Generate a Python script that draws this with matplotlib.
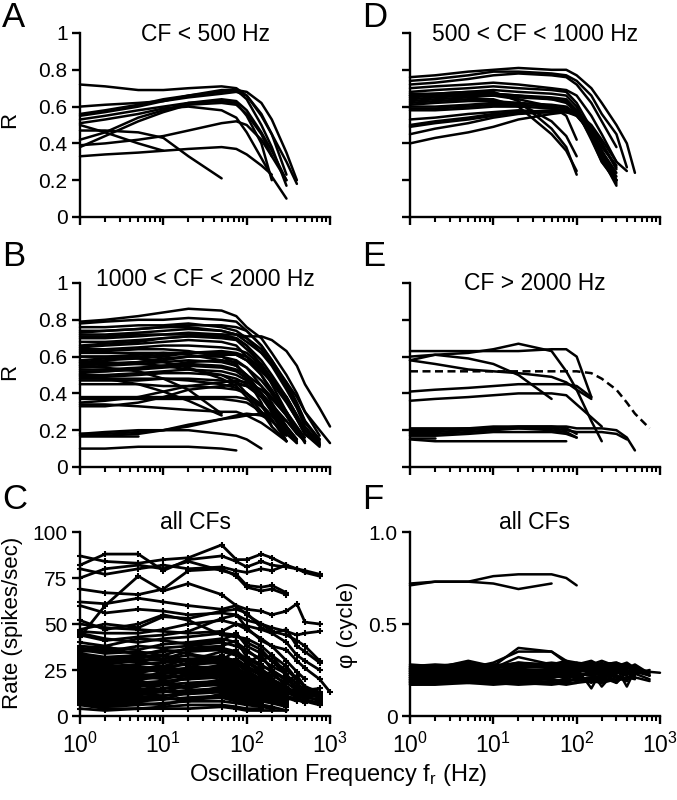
import matplotlib
matplotlib.use("Agg")
import matplotlib.pyplot as plt
from matplotlib.ticker import LogLocator, NullFormatter, FixedLocator, FixedFormatter

plt.rcParams['font.family'] = ['Liberation Sans', 'DejaVu Sans']
plt.rcParams['mathtext.fontset'] = 'custom'
plt.rcParams['mathtext.rm'] = 'Liberation Sans'
plt.rcParams['mathtext.it'] = 'Liberation Sans:italic'

# oscillation frequencies (Hz) at which the units were tested
FREQ = [1, 2, 5, 10, 20, 50, 75, 100, 150, 200, 300, 400, 500, 750, 1000]

# A: vector strength R, CF < 500 Hz
R_CF_LT500 = [
    [0.72, 0.71, 0.69, 0.69, 0.70, 0.71, 0.70, 0.66, 0.55, 0.45, 0.30, 0.18],
    [0.60, 0.61, 0.62, 0.63, 0.65, 0.67, 0.68, 0.66, 0.56, 0.45, 0.23],
    [0.55, 0.57, 0.60, 0.63, 0.66, 0.69, 0.69, 0.64, 0.50, 0.38, 0.17],
    [0.53, 0.55, 0.58, 0.60, 0.62, 0.63, 0.62, 0.55, 0.40, 0.20],
    [0.51, 0.53, 0.56, 0.59, 0.60, 0.58, 0.54, 0.46, 0.32, 0.22, 0.10],
    [0.50, 0.46, 0.40, 0.36],
    [0.47, 0.47, 0.46, 0.43, 0.33, 0.21],
    [0.42, 0.46, 0.54, 0.58, 0.62, 0.64, 0.63, 0.58, 0.46, 0.36, 0.20],
    [0.39, 0.40, 0.42, 0.44, 0.47, 0.51, 0.52, 0.50, 0.42, 0.33, 0.20],
    [0.38, 0.44, 0.52, 0.57, 0.61, 0.62, 0.61, 0.56, 0.45, 0.33],
    [0.33, 0.34, 0.35, 0.36, 0.37, 0.38, 0.37, 0.34, 0.28, 0.23],
    [0.56, 0.58, 0.61, 0.64, 0.66, 0.68, 0.69, 0.68, 0.62, 0.53, 0.35, 0.20],
]

# D: 500 < CF < 1000 Hz
R_CF_500_1000 = [
    [0.76, 0.77, 0.79, 0.80, 0.81, 0.80, 0.80, 0.77, 0.70, 0.62, 0.50, 0.40, 0.24],
    [0.74, 0.75, 0.77, 0.79, 0.79, 0.78, 0.77, 0.74, 0.66, 0.56, 0.45, 0.27],
    [0.72, 0.73, 0.75, 0.77, 0.78, 0.77, 0.76, 0.72, 0.62, 0.52, 0.38],
    [0.70, 0.71, 0.72, 0.73, 0.72, 0.70, 0.69, 0.66, 0.55, 0.45, 0.30],
    [0.68, 0.69, 0.70, 0.71, 0.70, 0.69, 0.68, 0.62, 0.48, 0.36, 0.20],
    [0.67, 0.67, 0.68, 0.69, 0.68, 0.67, 0.66, 0.60, 0.45, 0.32, 0.18],
    [0.66, 0.66, 0.67, 0.67, 0.66, 0.65, 0.64, 0.58, 0.42, 0.30, 0.20],
    [0.65, 0.66, 0.66, 0.66, 0.64, 0.60, 0.55, 0.42],
    [0.64, 0.65, 0.66, 0.67, 0.66, 0.64, 0.63, 0.58, 0.44, 0.32, 0.17],
    [0.63, 0.64, 0.65, 0.66, 0.65, 0.64, 0.62, 0.57, 0.43, 0.30, 0.19],
    [0.62, 0.63, 0.64, 0.64, 0.60, 0.45, 0.36, 0.25],
    [0.61, 0.62, 0.63, 0.63, 0.62, 0.52, 0.44, 0.33],
    [0.66, 0.67, 0.68, 0.68, 0.63, 0.48, 0.38, 0.23],
    [0.60, 0.60, 0.61, 0.62, 0.62, 0.61, 0.60, 0.56, 0.45, 0.35, 0.22],
    [0.59, 0.59, 0.60, 0.61, 0.61, 0.60, 0.59, 0.57, 0.49, 0.40, 0.27],
    [0.58, 0.58, 0.59, 0.60, 0.60, 0.59, 0.58, 0.55, 0.46, 0.36, 0.24],
    [0.53, 0.54, 0.56, 0.57, 0.58, 0.57, 0.57, 0.55, 0.46, 0.38, 0.28],
    [0.50, 0.52, 0.54, 0.56, 0.57, 0.57, 0.57, 0.56, 0.48, 0.40, 0.26],
    [0.49, 0.51, 0.53, 0.55, 0.57, 0.58, 0.58, 0.57, 0.50, 0.42, 0.30, 0.25],
    [0.45, 0.48, 0.51, 0.54, 0.56, 0.57, 0.58, 0.56, 0.46, 0.35, 0.20],
    [0.40, 0.43, 0.46, 0.49, 0.53, 0.56, 0.57, 0.56, 0.45, 0.33, 0.20],
]

# B: 1000 < CF < 2000 Hz
R_CF_1000_2000 = [
    [0.79, 0.80, 0.82, 0.84, 0.86, 0.85, 0.82, 0.76, 0.70, 0.62, 0.50, 0.40, 0.30, 0.17],
    [0.78, 0.79, 0.80, 0.80, 0.81, 0.80, 0.79, 0.74, 0.66, 0.58, 0.45, 0.34, 0.25, 0.14],
    [0.73, 0.74, 0.75, 0.76, 0.76, 0.74, 0.72, 0.71, 0.71, 0.69, 0.63, 0.55, 0.45, 0.32, 0.22],
    [0.76, 0.76, 0.77, 0.77, 0.78, 0.76, 0.74, 0.70, 0.62, 0.55, 0.42, 0.32, 0.22, 0.13],
    [0.72, 0.72, 0.73, 0.74, 0.75, 0.74, 0.72, 0.68, 0.62, 0.56, 0.46, 0.38, 0.30, 0.20, 0.13],
    [0.71, 0.71, 0.72, 0.72, 0.72, 0.71, 0.70, 0.66, 0.58, 0.50, 0.38, 0.28, 0.20, 0.12],
    [0.70, 0.70, 0.71, 0.72, 0.73, 0.72, 0.70, 0.66, 0.55, 0.45, 0.30, 0.20, 0.14],
    [0.66, 0.67, 0.68, 0.70, 0.71, 0.70, 0.69, 0.64, 0.56, 0.48, 0.36, 0.26, 0.18, 0.11],
    [0.65, 0.66, 0.67, 0.68, 0.69, 0.68, 0.66, 0.60, 0.50, 0.40, 0.28, 0.18],
    [0.64, 0.64, 0.65, 0.66, 0.66, 0.65, 0.64, 0.62, 0.55, 0.48, 0.38, 0.28, 0.20, 0.13],
    [0.63, 0.63, 0.64, 0.64, 0.63, 0.60, 0.56, 0.48, 0.35, 0.22],
    [0.62, 0.62, 0.62, 0.62, 0.61, 0.58, 0.55, 0.50, 0.40, 0.30, 0.14],
    [0.60, 0.60, 0.61, 0.62, 0.62, 0.62, 0.61, 0.58, 0.52, 0.46, 0.36, 0.26, 0.18, 0.12],
    [0.58, 0.59, 0.60, 0.61, 0.62, 0.63, 0.62, 0.60, 0.53, 0.46, 0.35, 0.26, 0.18, 0.12],
    [0.57, 0.58, 0.59, 0.60, 0.62, 0.62, 0.61, 0.58, 0.50, 0.42, 0.30, 0.20, 0.14],
    [0.56, 0.56, 0.57, 0.58, 0.60, 0.61, 0.61, 0.60, 0.54, 0.47, 0.38, 0.28, 0.20, 0.15],
    [0.55, 0.56, 0.57, 0.59, 0.60, 0.60, 0.58, 0.54, 0.44, 0.35, 0.22, 0.15],
    [0.54, 0.55, 0.56, 0.57, 0.58, 0.57, 0.55, 0.50, 0.40, 0.30, 0.18],
    [0.53, 0.53, 0.54, 0.55, 0.56, 0.55, 0.53, 0.50, 0.44, 0.38, 0.28, 0.20, 0.14],
    [0.52, 0.52, 0.53, 0.54, 0.55, 0.54, 0.52, 0.48, 0.40, 0.32, 0.20, 0.13],
    [0.51, 0.52, 0.53, 0.55, 0.57, 0.58, 0.57, 0.54, 0.47, 0.40, 0.30, 0.22, 0.16],
    [0.50, 0.50, 0.51, 0.52, 0.53, 0.52, 0.50, 0.47, 0.40, 0.33, 0.22],
    [0.49, 0.49, 0.50, 0.51, 0.51, 0.50, 0.48, 0.45, 0.38, 0.30, 0.18],
    [0.48, 0.48, 0.48, 0.48, 0.47, 0.45, 0.43, 0.40, 0.33, 0.26, 0.14],
    [0.47, 0.47, 0.47, 0.48, 0.48, 0.47, 0.46, 0.44, 0.38, 0.32, 0.22, 0.15],
    [0.50, 0.48, 0.45, 0.41, 0.36, 0.28],
    [0.55, 0.54, 0.52, 0.48, 0.42, 0.29],
    [0.45, 0.45, 0.45, 0.44, 0.44, 0.43, 0.42, 0.40, 0.34, 0.28, 0.18],
    [0.38, 0.38, 0.38, 0.38, 0.38, 0.38, 0.38, 0.37, 0.33, 0.28, 0.20, 0.14],
    [0.37, 0.37, 0.37, 0.37, 0.37, 0.37, 0.36, 0.35, 0.30, 0.25, 0.17],
    [0.35, 0.36, 0.38, 0.41, 0.44, 0.46, 0.47, 0.46, 0.42, 0.37, 0.28, 0.20, 0.13],
    [0.34, 0.34, 0.33, 0.32, 0.31, 0.30, 0.30, 0.28, 0.24, 0.20, 0.14],
    [0.33, 0.33, 0.35, 0.38, 0.42, 0.44, 0.45, 0.44, 0.40, 0.34, 0.25],
    [0.18, 0.18, 0.19, 0.20, 0.22, 0.26, 0.28, 0.29, 0.28, 0.25, 0.18, 0.13],
    [0.17, 0.17, 0.17],
    [0.18, 0.19, 0.20, 0.20, 0.20, 0.18, 0.17, 0.15, 0.10],
    [0.17, 0.17, 0.18, 0.20, 0.23, 0.26, 0.27, 0.28, 0.29, 0.29, 0.25, 0.18, 0.14],
    [0.10, 0.10, 0.11, 0.11, 0.11, 0.10, 0.09],
    [0.74, 0.74, 0.75, 0.76, 0.77, 0.77, 0.76, 0.74, 0.66, 0.58, 0.46, 0.35, 0.25, 0.15],
    [0.68, 0.68, 0.69, 0.70, 0.71, 0.72, 0.72, 0.70, 0.64, 0.56, 0.44, 0.33, 0.24, 0.15],
    [0.60, 0.60, 0.59, 0.57, 0.54, 0.48, 0.44, 0.38, 0.28],
    [0.57, 0.57, 0.56, 0.55, 0.53, 0.50, 0.46, 0.40, 0.30, 0.22, 0.14],
]

# E: CF > 2000 Hz (solid) and one unit drawn dashed
R_CF_GT2000 = [
    [0.63, 0.63, 0.63, 0.63, 0.63, 0.64, 0.64, 0.60, 0.38],
    [0.60, 0.61, 0.62, 0.64, 0.67, 0.63, 0.52, 0.42, 0.25, 0.14],
    [0.58, 0.61, 0.59, 0.56, 0.50, 0.37],
    [0.58, 0.56, 0.53, 0.52, 0.51, 0.49, 0.46, 0.42, 0.37],
    [0.41, 0.42, 0.43, 0.44, 0.45, 0.45, 0.45, 0.44, 0.38],
    [0.36, 0.37, 0.38, 0.39, 0.40, 0.40, 0.39, 0.34, 0.27, 0.22],
    [0.21, 0.21, 0.21, 0.22, 0.22, 0.22, 0.22, 0.21, 0.21, 0.21, 0.20, 0.16, 0.09],
    [0.20, 0.20, 0.21, 0.21, 0.22, 0.22, 0.21, 0.18],
    [0.19, 0.19, 0.20, 0.21, 0.21, 0.20, 0.19, 0.16],
    [0.18, 0.18, 0.19, 0.20, 0.21, 0.21, 0.20, 0.19, 0.19, 0.19, 0.18, 0.15],
    [0.17, 0.17, 0.18, 0.19, 0.19, 0.19, 0.18, 0.16],
    [0.16, 0.16],
    [0.15, 0.14, 0.14, 0.14, 0.14, 0.14, 0.14],
]
R_CF_GT2000_DASHED = [0.52, 0.52, 0.52, 0.52, 0.52, 0.52, 0.52, 0.52, 0.51, 0.48, 0.42, 0.35, 0.29, 0.21]

# C: discharge rate (spikes/sec), all CFs
RATE_ALL = [
    [87, 84, 83, 85, 86, 93, 85, 85, 88, 86, 82, 80, 79, 77],
    [82, 88, 88, 79, 85, 87, 84, 81, 84, 82, 81, 80, 78, 76],
    [80, 77, 80, 82, 80, 81, 79, 78, 80, 79, 82],
    [75, 80, 82, 80, 84, 79, 77, 71, 70, 71, 67],
    [69, 67, 66, 69, 79, 80, 76, 70, 68, 69, 66],
    [43, 60, 76, 68, 72, 66, 60, 58, 57, 55, 57, 61, 51, 50],
    [62, 61, 64, 62, 60, 58, 60, 55, 50, 48, 46, 44, 45, 46],
    [60, 56, 58, 57, 55, 56, 55, 52, 50, 46, 44, 41, 38, 30],
    [47, 50, 48, 54, 53, 57, 58, 56, 48, 45, 40, 33, 30, 25],
    [46, 45, 45, 47, 50, 52, 50, 47, 42, 38, 36, 30, 26, 20, 13],
    [45, 42, 40, 42, 43, 45, 44, 40, 36, 30, 22, 15, 14, 15],
    [50, 48, 47, 46, 45, 46, 50, 49, 47, 45, 47, 38, 35, 29],
    [44, 41, 43, 44, 46, 53, 55, 48, 41, 38, 30, 24, 20],
    [52, 47, 50, 55, 52, 44, 43, 42, 38, 33, 27, 20, 16, 12],
    [40, 38, 42, 41, 39, 41, 45, 38, 34, 30, 25, 20, 16, 13],
    [38, 37, 36, 39, 40, 42, 40, 36, 30, 33, 22, 18, 14, 12],
    [37, 35, 38, 37, 38, 40, 38, 35, 31, 27, 23, 14, 10, 9],
    [36, 34, 35, 33, 37, 38, 41, 32, 28, 24, 20, 15, 12, 10],
    [35, 36, 34, 35, 36, 37, 35, 31, 27, 25, 20, 16, 13, 11],
    [34, 32, 33, 31, 35, 36, 34, 30, 25, 22, 18, 14, 11, 8],
    [33, 31, 32, 33, 30, 35, 33, 29, 24, 20, 16, 12, 9, 7],
    [32, 30, 31, 30, 31, 32, 30, 27, 23, 19, 15, 12, 10],
    [31, 29, 30, 31, 33, 32, 30, 26, 22, 18, 14, 11],
    [30, 28, 30, 27, 31, 30, 28, 25, 20, 16, 12],
    [29, 27, 28, 29, 30, 31, 29, 24, 20, 17, 13, 10, 8, 6],
    [28, 26, 27, 25, 29, 30, 26, 23, 19, 15, 12],
    [27, 25, 26, 27, 28, 29, 27, 22, 18, 15, 11, 9, 7],
    [26, 24, 25, 26, 24, 28, 26, 22, 17, 14, 10],
    [25, 23, 24, 25, 26, 27, 25, 21, 17, 13, 10, 8],
    [24, 22, 23, 21, 25, 26, 24, 20, 16, 13, 10],
    [23, 21, 22, 23, 24, 25, 23, 19, 15, 12, 9],
    [22, 20, 21, 22, 20, 24, 22, 18, 15, 12, 9],
    [21, 19, 20, 21, 22, 23, 21, 17, 14, 11],
    [20, 18, 19, 17, 21, 22, 20, 17, 14, 11, 8],
    [19, 17, 18, 19, 20, 21, 19, 16, 13, 10, 8],
    [18, 16, 17, 18, 16, 20, 18, 15, 12, 10],
    [17, 15, 16, 17, 18, 19, 17, 14, 12, 9],
    [16, 14, 15, 13, 17, 18, 16, 14, 11, 9, 7],
    [15, 13, 14, 15, 16, 17, 15, 13, 11],
    [14, 12, 13, 14, 12, 16, 14, 12, 10, 8],
    [13, 11, 12, 13, 14, 15, 13, 12, 10, 8],
    [12, 10, 11, 9, 13, 14, 12, 11, 9, 7],
    [11, 9, 10, 11, 12, 13, 11, 10, 8, 7, 5],
    [10, 8, 9, 10, 8, 12, 10, 9, 7],
    [9, 7, 8, 9, 10, 11, 9, 8, 6, 5],
    [8, 6, 7, 6, 9, 10, 8, 7, 6, 5, 3],
    [7, 5, 6, 7, 8, 8, 7, 6, 5, 4],
    [6, 4, 4, 5, 6, 6, 5, 4, 4],
    [4, 3, 4, 4, 4, 5, 4, 3, 3, 3, 3],
    [35, 38, 33, 36, 34, 30, 36, 29, 33, 25, 19, 22, 16],
    [28, 31, 29, 33, 27, 26, 31, 27, 22, 24, 16, 11, 12],
    [22, 25, 23, 27, 22, 28, 25, 20, 21, 16, 13, 15, 10, 12],
    [17, 19, 22, 20, 23, 24, 22, 19, 17, 14, 9, 10],
    [12, 15, 14, 17, 15, 19, 17, 15, 13, 12, 10, 9, 11],
    [8, 10, 12, 11, 13, 14, 13, 12, 9, 8, 6],
    [26, 22, 27, 23, 26, 33, 29, 24, 26, 20, 15, 13],
    [19, 23, 19, 24, 26, 21, 23, 21, 16, 18, 12],
]

# F: response phase (cycle), all CFs
PHASE_ALL = [
    [0.71, 0.73, 0.73, 0.76, 0.77, 0.77, 0.75, 0.71],
    [0.72, 0.73, 0.73, 0.72, 0.69, 0.72],
    [0.28, 0.27, 0.28, 0.27, 0.29, 0.28, 0.29, 0.28, 0.27, 0.28, 0.29, 0.26, 0.25, 0.24, 0.235],
    [0.26, 0.26, 0.30, 0.27, 0.37, 0.35, 0.29, 0.28, 0.30, 0.27, 0.26, 0.28, 0.24, 0.22],
    [0.25, 0.26, 0.26, 0.29, 0.35, 0.35, 0.30, 0.27, 0.26, 0.29, 0.24, 0.22],
    [0.24, 0.25, 0.25, 0.26, 0.32, 0.28, 0.27, 0.29, 0.25, 0.26, 0.28, 0.23, 0.26, 0.24],
    [0.23, 0.24, 0.24, 0.25, 0.26, 0.27, 0.28, 0.26, 0.15, 0.25, 0.27, 0.24, 0.21],
    [0.22, 0.23, 0.24, 0.23, 0.25, 0.25, 0.26, 0.27, 0.24, 0.16, 0.25, 0.28, 0.23, 0.20],
    [0.21, 0.22, 0.22, 0.23, 0.24, 0.24, 0.25, 0.26, 0.27, 0.25, 0.18, 0.24, 0.26],
    [0.20, 0.21, 0.21, 0.22, 0.23, 0.23, 0.24, 0.25, 0.26, 0.24, 0.26, 0.16, 0.25, 0.22],
    [0.19, 0.20, 0.21, 0.21, 0.22, 0.22, 0.23, 0.24, 0.25, 0.27, 0.24, 0.26, 0.28, 0.23],
    [0.18, 0.19, 0.20, 0.20, 0.21, 0.22, 0.23, 0.22, 0.24, 0.25, 0.26, 0.23, 0.21, 0.19],
    [0.17, 0.18, 0.19, 0.19, 0.20, 0.21, 0.22, 0.23, 0.22, 0.24, 0.25],
    [0.27, 0.26, 0.25, 0.26, 0.27, 0.26, 0.27, 0.28, 0.29, 0.28, 0.27, 0.25],
    [0.26, 0.25, 0.27, 0.28, 0.27, 0.29, 0.28, 0.27, 0.26, 0.28, 0.29, 0.27, 0.24],
    [0.25, 0.24, 0.25, 0.24, 0.25, 0.24, 0.26, 0.25, 0.24, 0.23, 0.25, 0.26, 0.27, 0.22],
    [0.24, 0.23, 0.24, 0.25, 0.24, 0.23, 0.24, 0.26, 0.28, 0.26, 0.24],
    [0.23, 0.22, 0.23, 0.22, 0.23, 0.22, 0.23, 0.22, 0.23, 0.24, 0.23, 0.25],
    [0.22, 0.21, 0.22, 0.21, 0.20, 0.21, 0.22, 0.21, 0.20, 0.22, 0.23],
    [0.21, 0.20, 0.21, 0.20, 0.21, 0.20, 0.19, 0.20, 0.21, 0.20, 0.19, 0.21, 0.22],
    [0.20, 0.19, 0.20, 0.19, 0.18, 0.19, 0.20, 0.19, 0.20, 0.21, 0.22],
    [0.19, 0.18, 0.19, 0.18, 0.19, 0.18, 0.19, 0.20, 0.19, 0.18, 0.20, 0.21, 0.20],
    [0.18, 0.18, 0.18, 0.17, 0.18, 0.17, 0.18, 0.18, 0.19, 0.20, 0.19],
    [0.17, 0.17, 0.18, 0.18, 0.17, 0.18, 0.17, 0.18],
    [0.26, 0.27, 0.26, 0.27, 0.28, 0.27, 0.26, 0.27, 0.25, 0.26, 0.27, 0.25, 0.23, 0.25],
    [0.24, 0.24, 0.23, 0.24, 0.23, 0.25, 0.24, 0.23, 0.22, 0.23, 0.22, 0.19],
    [0.22, 0.22, 0.23, 0.24, 0.23, 0.24, 0.23, 0.24, 0.25, 0.23, 0.24, 0.22],
    [0.20, 0.21, 0.20, 0.22, 0.21, 0.22, 0.21, 0.23, 0.22, 0.21, 0.22, 0.20],
    [0.19, 0.20, 0.19, 0.20, 0.20, 0.21, 0.22, 0.21, 0.20, 0.19, 0.21],
    [0.27, 0.28, 0.27, 0.28, 0.27, 0.28, 0.30, 0.29, 0.28, 0.30, 0.27, 0.29, 0.26],
    [0.25, 0.27, 0.29, 0.26, 0.29, 0.27, 0.25, 0.27, 0.29, 0.24, 0.28, 0.25, 0.21],
    [0.23, 0.21, 0.24, 0.22, 0.25, 0.22, 0.24, 0.21, 0.24, 0.27, 0.21, 0.19, 0.24],
    [0.21, 0.23, 0.20, 0.23, 0.21, 0.23, 0.20, 0.22, 0.19, 0.22, 0.25, 0.23],
    [0.18, 0.20, 0.18, 0.21, 0.19, 0.20, 0.18, 0.21, 0.18, 0.21, 0.18, 0.24],
]

R_TICKS = [0, 0.2, 0.4, 0.6, 0.8, 1]
R_TICKLABELS = ['0', '0.2', '0.4', '0.6', '0.8', '1']
RATE_TICKS = [0, 25, 50, 75, 100]
PHASE_TICKS = [0, 0.5, 1.0]
PHASE_TICKLABELS = ['0', '0.5', '1.0']

TICK_FS = 15
TITLE_FS = 16.5
LABEL_FS = 16
LETTER_FS = 25

fig = plt.figure(figsize=(6.77, 8.0), dpi=100)

W = 0.3693
H = 0.23
LEFT = [0.1182, 0.6056]
BOTTOM = [0.72875, 0.41625, 0.105]


def style_axes(ax, yticks, yticklabels, xlabels=False):
    ax.set_xscale('log')
    ax.set_xlim(1, 1000)
    ax.set_ylim(yticks[0], yticks[-1])
    for s in ['top', 'right']:
        ax.spines[s].set_visible(False)
    for s in ['left', 'bottom']:
        ax.spines[s].set_linewidth(1.7)
    ax.yaxis.set_major_locator(FixedLocator(yticks))
    if yticklabels is None:
        ax.yaxis.set_major_formatter(NullFormatter())
    else:
        ax.yaxis.set_major_formatter(FixedFormatter(yticklabels))
    ax.xaxis.set_major_locator(LogLocator(base=10, numticks=10))
    ax.xaxis.set_minor_locator(LogLocator(base=10, subs=range(2, 10), numticks=10))
    ax.xaxis.set_minor_formatter(NullFormatter())
    ax.tick_params(axis='both', which='major', direction='out', width=1.7, length=6,
                   labelsize=TICK_FS, pad=3)
    ax.tick_params(axis='x', which='minor', direction='out', width=1.5, length=3.5)
    if xlabels:
        ax.tick_params(axis='x', which='major', labelsize=16.5, pad=6)
    else:
        ax.tick_params(axis='x', which='both', labelbottom=False)
    ax.patch.set_visible(False)


def draw_curves(ax, curves, lw=1.8, **kw):
    for vals in curves:
        ax.plot(FREQ[:len(vals)], vals, color='black', lw=lw, clip_on=False,
                solid_capstyle='round', solid_joinstyle='round', **kw)


def title(ax, text, y):
    ax.text(0.5, y, text, transform=ax.transAxes, ha='center', va='center',
            fontsize=TITLE_FS)


# A
axA = fig.add_axes([LEFT[0], BOTTOM[0], W, H])
draw_curves(axA, R_CF_LT500)
style_axes(axA, R_TICKS, R_TICKLABELS)
title(axA, 'CF < 500 Hz', 0.99)

# D
axD = fig.add_axes([LEFT[1], BOTTOM[0], W, H])
draw_curves(axD, R_CF_500_1000)
style_axes(axD, R_TICKS, None)
title(axD, '500 < CF < 1000 Hz', 0.99)

# B
axB = fig.add_axes([LEFT[0], BOTTOM[1], W, H])
draw_curves(axB, R_CF_1000_2000)
style_axes(axB, R_TICKS, R_TICKLABELS)
title(axB, '1000 < CF < 2000 Hz', 1.02)

# E
axE = fig.add_axes([LEFT[1], BOTTOM[1], W, H])
draw_curves(axE, R_CF_GT2000)
axE.plot(FREQ[:len(R_CF_GT2000_DASHED)], R_CF_GT2000_DASHED, color='black', lw=1.8,
         ls=(0, (3.2, 1.8)), clip_on=False)
style_axes(axE, R_TICKS, None)
title(axE, 'CF > 2000 Hz', 1.0)

# C
axC = fig.add_axes([LEFT[0], BOTTOM[2], W, H])
draw_curves(axC, RATE_ALL, lw=2.0, marker='+', ms=5, mew=1.5)
style_axes(axC, RATE_TICKS, [str(t) for t in RATE_TICKS], xlabels=True)
axC.text(0.46, 1.05, 'all CFs', transform=axC.transAxes, ha='center', va='center',
         fontsize=TITLE_FS)

# F
axF = fig.add_axes([LEFT[1], BOTTOM[2], W, H])
draw_curves(axF, PHASE_ALL, lw=1.8)
style_axes(axF, PHASE_TICKS, PHASE_TICKLABELS, xlabels=True)
axF.text(0.5, 1.05, 'all CFs', transform=axF.transAxes, ha='center', va='center',
         fontsize=TITLE_FS)

# y labels placed in figure pixels (centre)
for txt, (px, py) in [('R', (10, 120)), ('R', (10, 372)),
                      ('Rate (spikes/sec)', (13, 623)), ('\u03c6 (cycle)', (348, 625))]:
    fig.text(px / 677, 1 - py / 800, txt, rotation=90, ha='center', va='center',
             fontsize=LABEL_FS)

fig.text(0.5, 0.031, 'Oscillation Frequency f$_\\mathrm{r}$ (Hz)', ha='center',
         va='center', fontsize=17)

# panel letters
for letter, (x, y) in zip('ABCDEF', [(0.003, 0.978), (0.003, 0.679), (0.003, 0.376),
                                      (0.535, 0.978), (0.535, 0.679), (0.535, 0.376)]):
    fig.text(x, y, letter, fontsize=LETTER_FS, ha='left', va='center')

fig.savefig('out.png', dpi=100)
